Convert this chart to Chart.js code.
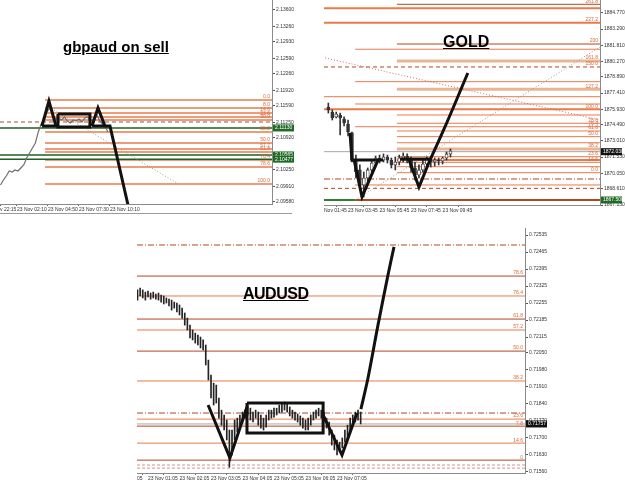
<!DOCTYPE html>
<html>
<head>
<meta charset="utf-8">
<script src="https://cdn.jsdelivr.net/npm/chart.js@4.4.1/dist/chart.umd.min.js"></script>
<style>
    body { margin: 0; width: 625px; height: 484px; overflow: hidden; position: relative; background: #fff; }
    canvas { position: absolute; }
    .title { position: absolute; font-family: "Liberation Sans", Arial, sans-serif; font-weight: bold; text-decoration: underline; color: #000; white-space: nowrap; }
    .frame { position: absolute; background: #9a9a9a; }
</style>
</head>
<body>
<canvas id="gbpChart" width="300" height="214" style="left:0;top:0"></canvas>
<canvas id="goldChart" width="301" height="215" style="left:324px;top:0"></canvas>
<canvas id="audChart" width="410" height="255" style="left:137px;top:228px"></canvas>
<div class="frame" style="left:0;top:213px;width:292px;height:1px"></div>
<div class="title" style="left:63px;top:39px;font-size:15px;line-height:15px">gbpaud on sell</div>
<div class="title" style="left:443px;top:34px;font-size:16px;line-height:16px">GOLD</div>
<div class="title" style="left:243px;top:286px;font-size:16px;line-height:16px;letter-spacing:-0.5px">AUDUSD</div>
<script>
// ---------- gbpaud (M5 bars, 0 = 23 Nov 02:10) ----------
const gbpPriceTicks = ['2.13600', '2.13260', '2.12930', '2.12590', '2.12260', '2.11920', '2.11590', '2.11250', '2.10920', '2.10580', '2.10250', '2.09910', '2.09580'];
const gbpTimeTicks = [-17.5, 0, 32, 64, 96];
const gbpTimeLabels = ['v 22:15', '23 Nov 02:10', '23 Nov 04:50', '23 Nov 07:30', '23 Nov 10:10'];
const gbpBars = [-17, -14, -11, -8, -5, -2, 1, 4, 7, 10, 13, 16, 19, 22, 25, 28, 31, 34, 37, 40, 43, 46, 49, 52, 55, 58, 61, 64, 67, 70, 73, 76, 79, 82, 85, 88, 91, 94];
const gbpClose = [2.09936, 2.10040, 2.10124, 2.10229, 2.10208, 2.10250, 2.10229, 2.10292, 2.10355, 2.10501, 2.10606, 2.10711, 2.10815, 2.11046, 2.11213, 2.11339, 2.11464, 2.11548, 2.11381, 2.11318, 2.11339, 2.11297, 2.11360, 2.11276, 2.11234, 2.11297, 2.11276, 2.11318, 2.11255, 2.11339, 2.11360, 2.11276, 2.11318, 2.11422, 2.11297, 2.11213, 2.11150, 2.11046];
const gbpFibPrices = [2.11716, 2.11548, 2.11443, 2.11360, 2.11297, 2.11046, 2.10815, 2.10690, 2.10627, 2.10459, 2.10313, 2.09957];
const gbpFibLabels = ['0.0', '8.0', '14.6', '23.6', '30.0', '38.2', '50.0', '57.7', '61.8', '76.4', '78.6', '100.0'];
const gbpFibStart = 29;
const gbpGreenLevels = [2.11130, 2.10565, 2.10477];
const gbpDashedLevel = 2.11255;
const gbpTop1 = [[25.8, 2.11171], [33, 2.11695], [40.3, 2.11171], [25.8, 2.11171]];
const gbpRange = [[42.3, 2.11422], [75.3, 2.11422], [75.3, 2.11150], [42.3, 2.11150], [42.3, 2.11422]];
const gbpTop2 = [[77.4, 2.11171], [83.6, 2.11548], [90.8, 2.11171], [77.4, 2.11171]];
const gbpDrop = [[90.8, 2.11171], [96, 2.11171], [114.6, 2.09517]];
const gbpTrend = [[33, 2.11569], [165, 2.09978]];

// ---------- GOLD (M15 bars, 0 = 23 Nov 01:45) ----------
const goldPriceTicks = ['1884.770', '1883.290', '1881.810', '1880.270', '1878.890', '1877.410', '1875.930', '1874.490', '1873.010', '1871.530', '1870.050', '1868.610', '1867.130'];
const goldTimeTicks = [1.9, 8, 16, 24, 32];
const goldTimeLabels = ['Nov 01:45', '23 Nov 03:45', '23 Nov 05:45', '23 Nov 07:45', '23 Nov 09:45'];
const goldBars = [3, 4, 5, 6, 7, 8, 9, 10, 11, 12, 13, 14, 15, 16, 17, 18, 19, 20, 21, 22, 23, 24, 25, 26, 27, 28, 29, 30, 31, 32, 33, 34];
const goldOpen = [1876.13, 1875.67, 1875.22, 1875.40, 1875.03, 1874.57, 1873.75, 1871.26, 1870.35, 1868.97, 1869.61, 1870.35, 1870.99, 1871.45, 1871.26, 1871.54, 1871.26, 1870.81, 1871.08, 1871.45, 1871.63, 1871.26, 1870.53, 1869.89, 1870.35, 1870.90, 1871.26, 1871.08, 1871.26, 1871.17, 1871.45, 1871.82];
const goldHigh = [1876.50, 1875.86, 1875.67, 1875.58, 1875.22, 1874.94, 1873.84, 1871.72, 1870.81, 1870.16, 1870.53, 1871.26, 1871.63, 1871.72, 1871.82, 1871.72, 1871.45, 1871.54, 1871.72, 1871.91, 1871.82, 1871.54, 1871.08, 1870.81, 1871.26, 1871.54, 1871.54, 1871.45, 1871.45, 1871.54, 1872.00, 1872.28];
const goldLow = [1875.58, 1874.94, 1875.12, 1873.56, 1874.39, 1873.47, 1871.08, 1869.61, 1868.51, 1867.87, 1869.24, 1870.16, 1870.71, 1870.99, 1871.08, 1870.99, 1870.53, 1870.35, 1870.81, 1871.08, 1870.99, 1870.16, 1869.43, 1869.61, 1870.16, 1870.53, 1870.62, 1870.71, 1870.81, 1870.90, 1871.26, 1871.54];
const goldClose = [1875.86, 1875.12, 1875.49, 1875.12, 1874.66, 1873.84, 1871.26, 1870.16, 1868.97, 1869.61, 1870.35, 1870.99, 1871.45, 1871.26, 1871.54, 1871.26, 1870.81, 1871.08, 1871.45, 1871.63, 1871.26, 1870.53, 1869.89, 1870.35, 1870.90, 1871.26, 1871.08, 1871.26, 1871.17, 1871.45, 1871.82, 1872.09];
const goldFibPrices = [1885.57, 1885.20, 1883.88, 1881.92, 1881.44, 1880.36, 1879.81, 1878.46, 1877.76, 1877.08, 1876.41, 1875.92, 1875.40, 1874.64, 1874.32, 1873.93, 1873.41, 1872.85, 1872.28, 1871.57, 1871.26, 1871.05, 1870.65, 1870.10, 1869.52, 1868.97, 1868.66, 1867.59];
const goldFibStart = [20.4, 1.9, 1.9, 20.4, 9.8, 20.4, 1.9, 9.8, 20.4, 1.9, 9.8, 1.9, 20.4, 20.4, 9.8, 20.4, 20.4, 20.4, 20.4, 20.4, 20.4, 20.4, 20.4, 20.4, 1.9, 9.8, 1.9, 1.9];
const goldFibLabels = ['261.8', '', '227.2', '200', '', '161.8', '150.0', '', '127.2', '', '', '100.0', '', '78.6', '76.4', '61.8', '50.0', '', '38.2', '23.6', '', '14.6', '', '0.0', '', '', '', ''];
const goldBid = 1872.03;
const goldLowLevel = 1867.59;
const goldDrop = [[8.5, 1873.75], [9.0, 1871.26], [16.9, 1871.26]];
const goldBottom1 = [[9.5, 1871.35], [11.55, 1867.87], [15.6, 1871.26]];
const goldNeck = [[21.2, 1871.35], [28.8, 1871.35]];
const goldBottom2 = [[23.5, 1871.26], [26.0, 1868.78], [28.8, 1871.26]];
const goldRally = [[28.8, 1871.26], [32.6, 1874.30], [35.2, 1876.50], [36.9, 1877.97], [38.4, 1879.26]];
const goldTrendA = [[2.2, 1880.64], [71.95, 1874.94]];
const goldTrendB = [[9.8, 1867.59], [71.95, 1881.65]];

// ---------- AUDUSD (M5 bars, 0 = 23 Nov 01:05) ----------
const audPriceTicks = ['0.72535', '0.72465', '0.72395', '0.72325', '0.72255', '0.72185', '0.72115', '0.72050', '0.71980', '0.71910', '0.71840', '0.71770', '0.71700', '0.71630', '0.71560'];
const audTimeTicks = [-4.19, 0, 12, 24, 36, 48, 60, 72];
const audTimeLabels = ['05', '23 Nov 01:05', '23 Nov 02:05', '23 Nov 03:05', '23 Nov 04:05', '23 Nov 05:05', '23 Nov 06:05', '23 Nov 07:05'];
const audFirstBar = -4;
const audHigh = [0.72309, 0.72317, 0.72309, 0.72300, 0.72304, 0.72296, 0.72300, 0.72292, 0.72296, 0.72288,
    0.72284, 0.72276, 0.72271, 0.72267, 0.72259, 0.72255, 0.72247, 0.72234, 0.72214, 0.72193,
    0.72164, 0.72144, 0.72131, 0.72123, 0.72115, 0.72103, 0.72082, 0.72020, 0.71958, 0.71925,
    0.71917, 0.71864, 0.71814, 0.71794, 0.71773, 0.71732, 0.71732, 0.71773, 0.71781, 0.71794,
    0.71806, 0.71814, 0.71835, 0.71822, 0.71806, 0.71814, 0.71806, 0.71794, 0.71781, 0.71794,
    0.71814, 0.71814, 0.71822, 0.71822, 0.71835, 0.71843, 0.71847, 0.71839, 0.71827, 0.71814,
    0.71806, 0.71798, 0.71790, 0.71781, 0.71773, 0.71781, 0.71794, 0.71806, 0.71814, 0.71822,
    0.71814, 0.71806, 0.71781, 0.71765, 0.71732, 0.71711, 0.71691, 0.71682, 0.71699, 0.71732,
    0.71752, 0.71781, 0.71794, 0.71806, 0.71814, 0.71806];
const audLow = [0.72267, 0.72284, 0.72276, 0.72267, 0.72280, 0.72271, 0.72276, 0.72271, 0.72267, 0.72259,
    0.72251, 0.72255, 0.72243, 0.72226, 0.72234, 0.72218, 0.72206, 0.72193, 0.72164, 0.72144,
    0.72111, 0.72103, 0.72090, 0.72082, 0.72070, 0.72062, 0.72000, 0.71938, 0.71864, 0.71835,
    0.71843, 0.71781, 0.71752, 0.71732, 0.71691, 0.71579, 0.71629, 0.71691, 0.71724, 0.71752,
    0.71765, 0.71781, 0.71794, 0.71773, 0.71765, 0.71781, 0.71752, 0.71740, 0.71732, 0.71744,
    0.71773, 0.71781, 0.71785, 0.71794, 0.71802, 0.71806, 0.71814, 0.71806, 0.71790, 0.71781,
    0.71773, 0.71765, 0.71752, 0.71740, 0.71732, 0.71732, 0.71752, 0.71773, 0.71781, 0.71790,
    0.71781, 0.71765, 0.71740, 0.71711, 0.71670, 0.71650, 0.71629, 0.71641, 0.71658, 0.71682,
    0.71691, 0.71724, 0.71752, 0.71765, 0.71773, 0.71757];
const audFibPrices = [0.72494, 0.72366, 0.72284, 0.72189, 0.72144, 0.72057, 0.71934, 0.71802, 0.71777, 0.71748, 0.71678, 0.71608, 0.71588, 0.71575];
const audFibLabels = ['', '78.6', '76.4', '61.8', '57.2', '50.0', '38.2', '', '23.6', '7.8', '14.6', '0', '', ''];
const audBid = 0.71757;
const audBottom1 = [[22.9, 0.71835], [31.2, 0.71617], [37.7, 0.71827]];
const audRange = [[37.7, 0.71843], [66.7, 0.71843], [66.7, 0.71720], [37.7, 0.71720], [37.7, 0.71843]];
const audBottom2 = [[66.7, 0.71794], [73.9, 0.71629], [79.6, 0.71802]];
const audRally = [[81.1, 0.71818], [83.8, 0.71946], [87.6, 0.72164], [91.4, 0.72370], [93.7, 0.72486]];

// ---------- styling ----------
const FIB = 'rgb(233, 122, 74)';
const FIB_DARK = 'rgb(178, 70, 30)';
const FIB_BAND = 'rgba(230, 168, 130, 0.85)';
const INK = '#111';
const AXIS_FONT = { family: 'Liberation Sans', size: 5 };

const lineKinds = {
    line: [FIB, 1, []],
    thick: [FIB, 2, []],
    dark: [FIB_DARK, 1, []],
    band: [FIB_BAND, 3, []],
    dash: [FIB_DARK, 1, [4, 3]],
    dashdot: [FIB_DARK, 1, [6, 2, 1, 2]],
    dashlight: ['rgb(205, 150, 140)', 1, [3, 2]],
    base: [FIB_DARK, 2, []],
};
const goldFibKind = ['dark', 'thick', 'thick', 'dark', 'line', 'band', 'dash', 'line', 'band', 'line', 'line', 'thick', 'line', 'line', 'line', 'line', 'line', 'line', 'band', 'line', 'thick', 'line', 'line', 'line', 'dashdot', 'line', 'dash', 'base'];
const audFibKind = ['dashdot', 'dark', 'line', 'dark', 'line', 'dark', 'line', 'dashdot', 'line', 'dark', 'line', 'dark', 'dashlight', 'dashlight'];

const path = (points, color, width, dash, order, tension) => ({
    type: 'line',
    data: points.map(([x, y]) => ({ x, y })),
    borderColor: color,
    borderWidth: width,
    borderDash: dash || [],
    pointRadius: 0,
    tension: tension || 0,
    order: order,
});

const level = (y, x0, x1, kind, order) => {
    const [color, width, dash] = lineKinds[kind];
    return path([[x0, y], [x1, y]], color, width, dash, order === undefined ? 20 : order);
};

// fib captions and the coloured price tags on the axis
const mtLabels = (fibPrices, fibLabels, tags) => ({
    id: 'mtLabels',
    afterDraw(chart) {
        const { ctx, chartArea } = chart;
        const y = chart.scales.y;
        ctx.save();
        ctx.font = '5px "Liberation Sans"';
        ctx.textAlign = 'right';
        ctx.textBaseline = 'bottom';
        ctx.fillStyle = 'rgb(215, 105, 60)';
        fibPrices.forEach((p, i) => {
            if (!fibLabels[i]) {
                return;
            }
            ctx.fillText(fibLabels[i], chartArea.right - 2, y.getPixelForValue(p) - 0.5);
        });
        ctx.textAlign = 'left';
        ctx.textBaseline = 'middle';
        tags.forEach((tag) => {
            const py = y.getPixelForValue(tag.price);
            ctx.fillStyle = tag.bg;
            ctx.fillRect(chartArea.right + 1, py - 3.5, 21, 7);
            ctx.fillStyle = '#fff';
            ctx.fillText(tag.text, chartArea.right + 3, py);
        });
        ctx.restore();
    },
});

const buildChart = (canvasId, cfg) => new Chart(document.getElementById(canvasId), {
    type: 'line',
    data: { datasets: cfg.datasets },
    options: {
        responsive: false,
        animation: false,
        events: [],
        layout: { padding: 0 },
        plugins: {
            legend: { display: false },
            tooltip: { enabled: false },
        },
        scales: {
            x: {
                type: 'linear',
                min: cfg.xMin,
                max: cfg.xMax,
                offset: false,
                grid: { display: true, drawOnChartArea: false, tickLength: 2, color: '#666' },
                border: { display: true, color: '#8a8a8a' },
                ticks: {
                    autoSkip: false,
                    maxRotation: 0,
                    align: 'start',
                    padding: 1,
                    font: AXIS_FONT,
                    color: '#333',
                    callback: (value, index) => cfg.timeLabels[index],
                },
                afterBuildTicks: (scale) => {
                    scale.ticks = cfg.timeTicks.map((v) => ({ value: v }));
                },
                afterFit: (scale) => {
                    scale.height = 10;
                    scale.paddingLeft = 0;
                    scale.paddingRight = 0;
                },
            },
            y: {
                type: 'linear',
                position: 'right',
                min: cfg.yMin,
                max: cfg.yMax,
                grid: { display: true, drawOnChartArea: false, tickLength: 3, color: '#555' },
                border: { display: true, color: '#8a8a8a' },
                ticks: {
                    autoSkip: false,
                    padding: 1,
                    font: AXIS_FONT,
                    color: '#333',
                    callback: (value, index) => cfg.priceTicks[index],
                },
                afterBuildTicks: (scale) => {
                    scale.ticks = cfg.priceTicks.map((t) => ({ value: parseFloat(t) }));
                },
                afterFit: (scale) => {
                    scale.width = cfg.axisWidth;
                    scale.paddingTop = 0;
                    scale.paddingBottom = 0;
                },
            },
        },
    },
    plugins: [mtLabels(cfg.fibPrices, cfg.fibLabels, cfg.tags)],
});

// ---------- gbpaud ----------
const gbpXMin = -17.5;
const gbpXMax = 263.2;
buildChart('gbpChart', {
    xMin: gbpXMin, xMax: gbpXMax, yMin: 2.09538, yMax: 2.13809,
    timeTicks: gbpTimeTicks, timeLabels: gbpTimeLabels, priceTicks: gbpPriceTicks, axisWidth: 28,
    fibPrices: gbpFibPrices, fibLabels: gbpFibLabels,
    tags: gbpGreenLevels.map((p) => ({ price: p, text: p.toFixed(5), bg: '#1f6a24' })),
    datasets: [
        ...gbpFibPrices.map((p) => path([[gbpFibStart, p], [gbpXMax, p]], FIB, 1.5, [], 20)),
        path([[gbpXMin, gbpDashedLevel], [gbpXMax, gbpDashedLevel]], 'rgb(170, 70, 70)', 1, [4, 3], 19),
        ...gbpGreenLevels.map((p) => path([[gbpXMin, p], [gbpXMax, p]], '#1f5f22', 1.5, [], 18)),
        path(gbpTrend, '#9a9a9a', 1, [1, 2], 15),
        path(gbpBars.map((b, i) => [b, gbpClose[i]]), '#6f6f6f', 1.2, [], 10),
        path(gbpTop1, INK, 3, [], 1),
        path(gbpRange, INK, 3, [], 1),
        path(gbpTop2, INK, 3, [], 1),
        path(gbpDrop, INK, 3, [], 1),
    ],
});

// ---------- GOLD ----------
const goldXMin = 1.9;
const goldXMax = 71.95;
buildChart('goldChart', {
    xMin: goldXMin, xMax: goldXMax, yMin: 1867.13, yMax: 1885.964,
    timeTicks: goldTimeTicks, timeLabels: goldTimeLabels, priceTicks: goldPriceTicks, axisWidth: 25,
    fibPrices: goldFibPrices, fibLabels: goldFibLabels,
    tags: [
        { price: goldBid, text: '1872.030', bg: '#111' },
        { price: goldLowLevel, text: '1867.500', bg: '#1f6a24' },
    ],
    datasets: [
        ...goldFibPrices.map((p, i) => level(p, goldFibStart[i], goldXMax, goldFibKind[i])),
        path([[goldXMin, goldLowLevel], [9.8, goldLowLevel]], '#2e7d32', 2, [], 18),
        path([[goldXMin, goldBid], [goldXMax, goldBid]], '#a8a8a8', 1, [], 17),
        path(goldTrendA, 'rgb(200, 110, 110)', 1, [1, 2], 15),
        path(goldTrendB, '#9a9a9a', 1, [1, 2], 15),
        {
            type: 'bar',
            data: goldBars.map((b, i) => ({ x: b, y: [goldLow[i], goldHigh[i]] })),
            backgroundColor: '#333',
            barThickness: 1,
            grouped: false,
            order: 11,
        },
        {
            type: 'bar',
            data: goldBars.map((b, i) => ({ x: b, y: [goldOpen[i], goldClose[i]] })),
            backgroundColor: goldBars.map((b, i) => (goldClose[i] > goldOpen[i] ? '#fff' : '#333')),
            borderColor: '#333',
            borderWidth: 0.8,
            borderSkipped: false,
            barThickness: 3,
            grouped: false,
            order: 10,
        },
        path(goldDrop, INK, 3, [], 1),
        path(goldBottom1, INK, 3, [], 1),
        path(goldNeck, INK, 3, [], 1),
        path(goldBottom2, INK, 3, [], 1),
        path(goldRally, INK, 3, [], 1, 0.3),
    ],
});

// ---------- AUDUSD ----------
const audXMin = -4.19;
const audXMax = 143.6;
buildChart('audChart', {
    xMin: audXMin, xMax: audXMax, yMin: 0.71555, yMax: 0.72564,
    timeTicks: audTimeTicks, timeLabels: audTimeLabels, priceTicks: audPriceTicks, axisWidth: 22,
    fibPrices: audFibPrices, fibLabels: audFibLabels,
    tags: [{ price: audBid, text: '0.71757', bg: '#111' }],
    datasets: [
        ...audFibPrices.map((p, i) => level(p, audXMin, audXMax, audFibKind[i])),
        path([[audXMin, audBid], [audXMax, audBid]], '#a8a8a8', 1, [], 17),
        {
            type: 'bar',
            data: audHigh.map((h, i) => ({ x: i + audFirstBar, y: [audLow[i], h] })),
            backgroundColor: '#222',
            barThickness: 1,
            grouped: false,
            order: 10,
        },
        path(audBottom1, INK, 3, [], 1),
        path(audRange, INK, 3, [], 1),
        path(audBottom2, INK, 3, [], 1),
        path(audRally, INK, 3, [], 1, 0.3),
    ],
});
</script>
</body>
</html>
